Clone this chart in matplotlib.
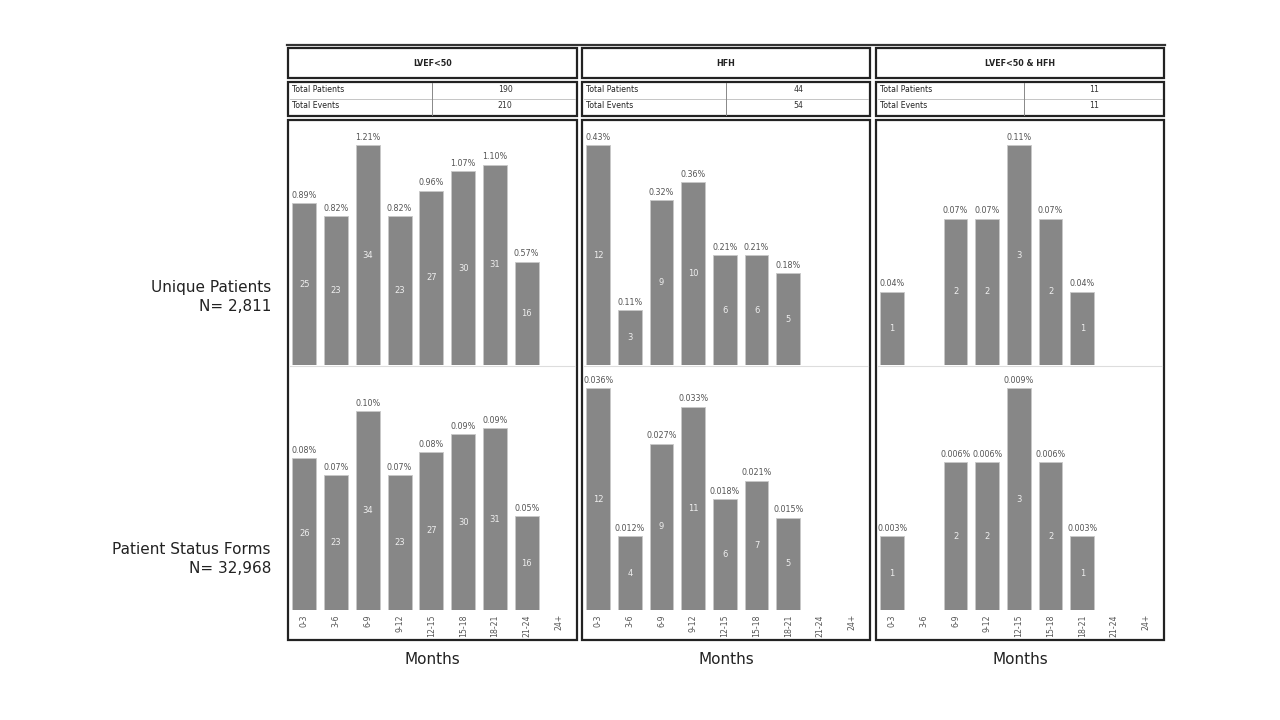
import numpy as np
import matplotlib
matplotlib.use('Agg')
import matplotlib.pyplot as plt
from matplotlib.patches import Rectangle
from matplotlib.lines import Line2D

# [data]
months = ['0-3', '3-6', '6-9', '9-12', '12-15', '15-18', '18-21', '21-24', '24+']
groups = ['LVEF<50', 'HFH', 'LVEF<50 & HFH']
total_patients = [190, 44, 11]
total_events = [210, 54, 11]
row_labels = ['Unique Patients\nN= 2,811', 'Patient Status Forms\nN= 32,968']

# unique patients (counts, percent)
up_lvef = [25, 23, 34, 23, 27, 30, 31, 16, None]
up_lvef_pct = ['0.89%', '0.82%', '1.21%', '0.82%', '0.96%', '1.07%', '1.10%', '0.57%', None]
up_hfh = [12, 3, 9, 10, 6, 6, 5, None, None]
up_hfh_pct = ['0.43%', '0.11%', '0.32%', '0.36%', '0.21%', '0.21%', '0.18%', None, None]
up_both = [1, None, 2, 2, 3, 2, 1, None, None]
up_both_pct = ['0.04%', None, '0.07%', '0.07%', '0.11%', '0.07%', '0.04%', None, None]

# patient status forms (counts, percent)
psf_lvef = [26, 23, 34, 23, 27, 30, 31, 16, None]
psf_lvef_pct = ['0.08%', '0.07%', '0.10%', '0.07%', '0.08%', '0.09%', '0.09%', '0.05%', None]
psf_hfh = [12, 4, 9, 11, 6, 7, 5, None, None]
psf_hfh_pct = ['0.036%', '0.012%', '0.027%', '0.033%', '0.018%', '0.021%', '0.015%', None, None]
psf_both = [1, None, 2, 2, 3, 2, 1, None, None]
psf_both_pct = ['0.003%', None, '0.006%', '0.006%', '0.009%', '0.006%', '0.003%', None, None]

counts = [[up_lvef, up_hfh, up_both], [psf_lvef, psf_hfh, psf_both]]
pcts = [[up_lvef_pct, up_hfh_pct, up_both_pct], [psf_lvef_pct, psf_hfh_pct, psf_both_pct]]
headroom = [[1.115, 1.115, 1.115], [1.23, 1.105, 1.105]]

W, H = 1280, 720
fig = plt.figure(figsize=(12.8, 7.2), dpi=100)
plt.rcParams['font.family'] = ['DejaVu Sans']


def rect(x0, y0, x1, y1):
    return [x0 / W, 1 - y1 / H, (x1 - x0) / W, (y1 - y0) / H]


def box(x0, y0, x1, y1, lw=1.6, color='#222222'):
    fig.patches.append(Rectangle((x0 / W, 1 - y1 / H), (x1 - x0) / W, (y1 - y0) / H,
                                 transform=fig.transFigure, fill=False,
                                 edgecolor=color, linewidth=lw))


def hline(x0, x1, y, lw=1, color='#222222'):
    fig.lines.append(Line2D([x0 / W, x1 / W], [1 - y / H, 1 - y / H],
                            transform=fig.transFigure, color=color, linewidth=lw))


cols = [(287, 578), (581, 871), (875, 1165)]
dividers = [432, 726, 1024]
x = np.arange(len(months))

# top rule
hline(287, 1165, 45, lw=1.6, color='#333333')

for c, (x0, x1) in enumerate(cols):
    # header
    box(x0 + 1, 48, x1 - 1, 78)
    fig.text((x0 + x1) / 2 / W, 1 - 63 / H, groups[c], ha='center', va='center',
             fontsize=5.8, fontweight='bold', color='#222222')
    # table
    box(x0 + 1, 82, x1 - 1, 116)
    hline(x0 + 3, x1 - 3, 98.5, lw=0.6, color='#bbbbbb')
    fig.lines.append(Line2D([dividers[c] / W] * 2, [1 - 83 / H, 1 - 115 / H],
                            transform=fig.transFigure, color='#888888', linewidth=0.7))
    for yy, lab, val in [(90, 'Total Patients', total_patients[c]),
                         (106, 'Total Events', total_events[c])]:
        fig.text((x0 + 5) / W, 1 - yy / H, lab, ha='left', va='center',
                 fontsize=5.6, color='#222222')
        fig.text((dividers[c] + x1) / 2 / W, 1 - yy / H, str(val), ha='center',
                 va='center', fontsize=5.6, color='#333333')
    # chart box
    box(x0 + 1, 120, x1 - 1, 640)
    hline(x0 + 3, x1 - 3, 365.5, lw=0.8, color='#dddddd')

    for r in range(2):
        y0, y1 = (120, 365) if r == 0 else (365, 610)
        ax = fig.add_axes(rect(x0 + 2, y0, x1 - 2, y1))
        ax.patch.set_alpha(0)
        vals = counts[r][c]
        pc = pcts[r][c]
        vmax = max(v for v in vals if v is not None)
        hv = [v if v is not None else 0 for v in vals]
        ax.bar(x, hv, width=0.75, color='#878787', edgecolor='#c8c8c8', linewidth=0.6)
        ax.set_xlim(-0.48, 8.55)
        ax.set_ylim(0, vmax * headroom[r][c])
        for i, v in enumerate(vals):
            if v is None:
                continue
            ax.text(i, v + vmax * 0.015, pc[i], ha='center', va='bottom',
                    fontsize=5.8, color='#555555')
            ax.text(i, v / 2, str(v), ha='center', va='center',
                    fontsize=6, color='#eeeeee')
        for s in ax.spines.values():
            s.set_visible(False)
        ax.set_yticks([])
        if r == 1:
            ax.set_xticks(x)
            ax.set_xticklabels(months, rotation=90, fontsize=5.6, color='#555555')
            ax.tick_params(axis='x', length=0, pad=3)
        else:
            ax.set_xticks([])

    fig.text((x0 + x1) / 2 / W, 1 - 660 / H, 'Months', ha='center', va='center',
             fontsize=11, color='#222222')

# row labels
fig.text(271 / W, 1 - 297 / H, row_labels[0], ha='right', va='center',
         fontsize=11, color='#222222', linespacing=1.35)
fig.text(271 / W, 1 - 559 / H, row_labels[1], ha='right', va='center',
         fontsize=11, color='#222222', linespacing=1.35)

fig.savefig('out.png', dpi=100, facecolor='white')
